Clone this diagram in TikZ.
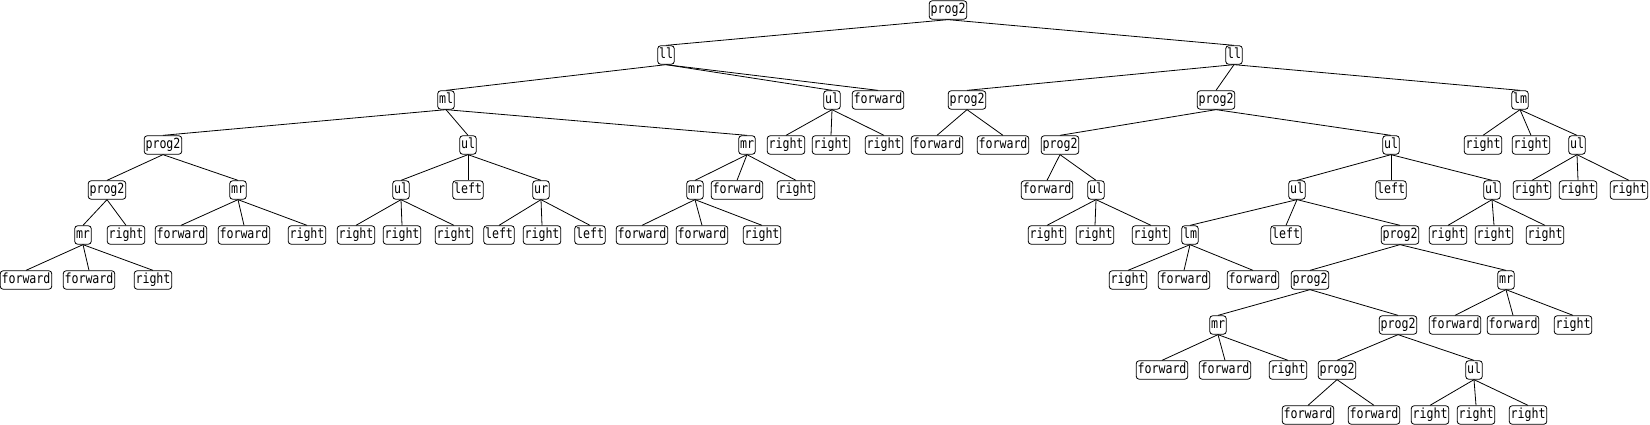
\documentclass[tikz,border=0pt]{standalone}
\usepackage{fontspec}
\setmonofont[FakeStretch=0.83]{DejaVu Sans Mono}
\usepackage{tikz}
\usetikzlibrary{positioning}

\begin{document}
\begin{tikzpicture}[x=1pt,y=-1pt,
  tok/.style={draw, line width=0.8pt, rounded corners=3pt, inner xsep=1.3pt, inner ysep=2.5pt,
    text height=10.5pt, text depth=3pt, font=\ttfamily\fontsize{14}{14}\selectfont},
  link/.style={line width=0.8pt}]
\useasboundingbox (0,0) rectangle (1650,425);

\node[tok] (n0a) at (948,10) {prog2};

\node[tok] (n1a) at (666,55) {ll};
\node[tok] (n1b) at (1234,55) {ll};

\node[tok] (n2a) at (446,100) {ml};
\node[tok] (n2b) at (832,100) {ul};
\node[tok] (n2c) at (878,100) {forward};
\node[tok] (n2d) at (967,100) {prog2};
\node[tok] (n2e) at (1216,100) {prog2};
\node[tok] (n2f) at (1520,100) {lm};

\node[tok] (n3a) at (163,145) {prog2};
\node[tok] (n3b) at (468,145) {ul};
\node[tok] (n3c) at (747,145) {mr};
\node[tok] (n3d) at (786,145) {right};
\node[tok] (n3e) at (831,145) {right};
\node[tok] (n3f) at (884,145) {right};
\node[tok] (n3g) at (937,145) {forward};
\node[tok] (n3h) at (1003,145) {forward};
\node[tok] (n3i) at (1060,145) {prog2};
\node[tok] (n3j) at (1391,145) {ul};
\node[tok] (n3k) at (1483,145) {right};
\node[tok] (n3l) at (1531,145) {right};
\node[tok] (n3m) at (1577,145) {ul};

\node[tok] (n4a) at (107,190) {prog2};
\node[tok] (n4b) at (238,190) {mr};
\node[tok] (n4c) at (401,190) {ul};
\node[tok] (n4d) at (468,190) {left};
\node[tok] (n4e) at (541,190) {ur};
\node[tok] (n4f) at (695,190) {mr};
\node[tok] (n4g) at (737,190) {forward};
\node[tok] (n4h) at (796,190) {right};
\node[tok] (n4i) at (1047,190) {forward};
\node[tok] (n4j) at (1096,190) {ul};
\node[tok] (n4k) at (1297,190) {ul};
\node[tok] (n4l) at (1391,190) {left};
\node[tok] (n4m) at (1492,190) {ul};
\node[tok] (n4n) at (1532,190) {right};
\node[tok] (n4o) at (1578,190) {right};
\node[tok] (n4p) at (1629,190) {right};

\node[tok] (n5a) at (83,235) {mr};
\node[tok] (n5b) at (126,235) {right};
\node[tok] (n5c) at (181,235) {forward};
\node[tok] (n5d) at (244,235) {forward};
\node[tok] (n5e) at (307,235) {right};
\node[tok] (n5f) at (356,235) {right};
\node[tok] (n5g) at (402,235) {right};
\node[tok] (n5h) at (454,235) {right};
\node[tok] (n5i) at (499,235) {left};
\node[tok] (n5j) at (542,235) {right};
\node[tok] (n5k) at (590,235) {left};
\node[tok] (n5l) at (642,235) {forward};
\node[tok] (n5m) at (702,235) {forward};
\node[tok] (n5n) at (762,235) {right};
\node[tok] (n5o) at (1047,235) {right};
\node[tok] (n5p) at (1095,235) {right};
\node[tok] (n5q) at (1151,235) {right};
\node[tok] (n5r) at (1190,235) {lm};
\node[tok] (n5s) at (1286,235) {left};
\node[tok] (n5t) at (1400,235) {prog2};
\node[tok] (n5u) at (1448,235) {right};
\node[tok] (n5v) at (1494,235) {right};
\node[tok] (n5w) at (1545,235) {right};

\node[tok] (n6a) at (26,280) {forward};
\node[tok] (n6b) at (89,280) {forward};
\node[tok] (n6c) at (153,280) {right};
\node[tok] (n6d) at (1128,280) {right};
\node[tok] (n6e) at (1184,280) {forward};
\node[tok] (n6f) at (1253,280) {forward};
\node[tok] (n6g) at (1310,280) {prog2};
\node[tok] (n6h) at (1506,280) {mr};

\node[tok] (n7a) at (1218,325) {mr};
\node[tok] (n7b) at (1398,325) {prog2};
\node[tok] (n7c) at (1455,325) {forward};
\node[tok] (n7d) at (1513,325) {forward};
\node[tok] (n7e) at (1573,325) {right};

\node[tok] (n8a) at (1162,370) {forward};
\node[tok] (n8b) at (1225,370) {forward};
\node[tok] (n8c) at (1288,370) {right};
\node[tok] (n8d) at (1337,370) {prog2};
\node[tok] (n8e) at (1474,370) {ul};

\node[tok] (n9a) at (1308,415) {forward};
\node[tok] (n9b) at (1374,415) {forward};
\node[tok] (n9c) at (1430,415) {right};
\node[tok] (n9d) at (1476,415) {right};
\node[tok] (n9e) at (1528,415) {right};

\foreach \p/\c in {n0a/n1a, n0a/n1b,
  n1a/n2a, n1a/n2b, n1a/n2c, n1b/n2d, n1b/n2e, n1b/n2f,
  n2a/n3a, n2a/n3b, n2a/n3c, n2b/n3d, n2b/n3e, n2b/n3f,
  n2d/n3g, n2d/n3h, n2e/n3i, n2e/n3j, n2f/n3k, n2f/n3l, n2f/n3m,
  n3a/n4a, n3a/n4b, n3b/n4c, n3b/n4d, n3b/n4e, n3c/n4f, n3c/n4g, n3c/n4h,
  n3i/n4i, n3i/n4j, n3j/n4k, n3j/n4l, n3j/n4m, n3m/n4n, n3m/n4o, n3m/n4p,
  n4a/n5a, n4a/n5b, n4b/n5c, n4b/n5d, n4b/n5e, n4c/n5f, n4c/n5g, n4c/n5h,
  n4e/n5i, n4e/n5j, n4e/n5k, n4f/n5l, n4f/n5m, n4f/n5n,
  n4j/n5o, n4j/n5p, n4j/n5q, n4k/n5r, n4k/n5s, n4k/n5t, n4m/n5u, n4m/n5v, n4m/n5w,
  n5a/n6a, n5a/n6b, n5a/n6c, n5r/n6d, n5r/n6e, n5r/n6f, n5t/n6g, n5t/n6h,
  n6g/n7a, n6g/n7b, n6h/n7c, n6h/n7d, n6h/n7e,
  n7a/n8a, n7a/n8b, n7a/n8c, n7b/n8d, n7b/n8e,
  n8d/n9a, n8d/n9b, n8e/n9c, n8e/n9d, n8e/n9e}
  \draw[link] (\p.south) -- (\c.north);

\end{tikzpicture}
\end{document}
